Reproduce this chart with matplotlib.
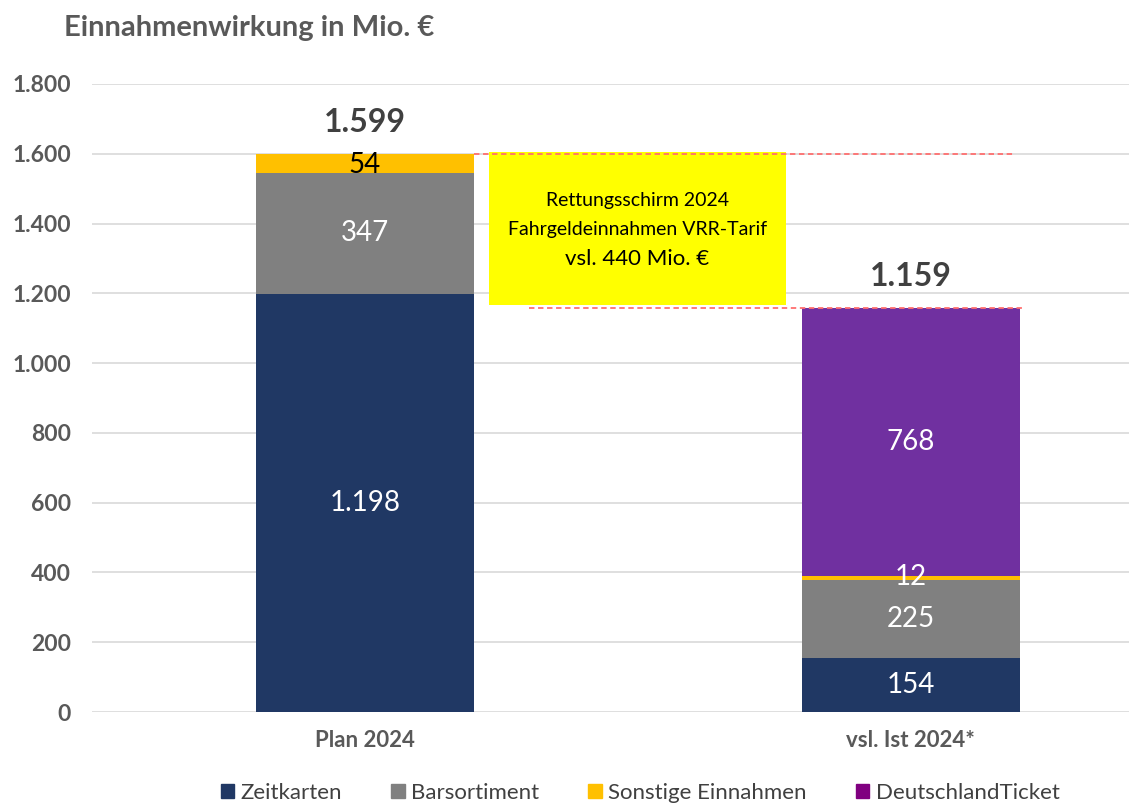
import matplotlib
matplotlib.use("Agg")
import matplotlib.pyplot as plt
from matplotlib.patches import Rectangle, Patch

plt.rcParams['font.family'] = ['Lato', 'DejaVu Sans']

# --- Daten ---
kategorien = ['Plan 2024', 'vsl. Ist 2024*']
zeitkarten = [1198, 154]
barsortiment = [347, 225]
sonstige = [54, 12]
dticket = [0, 768]
summen = [1599, 1159]
rettungsschirm = 440

serien = ['Zeitkarten', 'Barsortiment', 'Sonstige Einnahmen', 'DeutschlandTicket']
farben = ['#203864', '#808080', '#FFC000', '#7030A0']
legendfarben = ['#203864', '#808080', '#FFC000', '#800080']


def fmt(v):
    return f"{v:,.0f}".replace(',', '.')


fig = plt.figure(figsize=(11.29, 8.05), dpi=100)
ax = fig.add_axes([0.0815, 0.1155, 0.9185, 0.7802])

x = [0, 1]
breite = 0.40
unten = [0, 0]
werte = [zeitkarten, barsortiment, sonstige, dticket]
for name, vals, farbe in zip(serien, werte, farben):
    ax.bar(x, vals, breite, bottom=unten, color=farbe, zorder=3)
    for i, v in enumerate(vals):
        if v == 0:
            continue
        y = unten[i] + v / 2
        c = 'white'
        if name == 'Sonstige Einnahmen':
            c = 'black' if i == 0 else 'white'
            y = unten[i] + v / 2 + (-4 if i == 0 else 2)
        ax.text(x[i], y, fmt(v), ha='center', va='center', color=c,
                fontsize=20, zorder=5)
    unten = [u + v for u, v in zip(unten, vals)]

# Summen
for i, s in enumerate(summen):
    ax.text(x[i], s + 90, fmt(s), ha='center', va='center', fontsize=23,
            fontweight='bold', color='#404040')

# Rettungsschirm-Box
ax.add_patch(Rectangle((0.227, 1166), 0.544, 1604 - 1166, facecolor='#FFFF00',
                       edgecolor='none', zorder=4))
ax.text(0.499, 1466, 'Rettungsschirm 2024', ha='center', va='center',
        fontsize=14, zorder=5)
ax.text(0.499, 1384, 'Fahrgeldeinnahmen VRR-Tarif', ha='center', va='center',
        fontsize=14, zorder=5)
ax.text(0.499, 1298, f'vsl. {rettungsschirm} Mio. €', ha='center', va='center',
        fontsize=16, zorder=5)
ax.plot([0.2, 1.19], [summen[0], summen[0]], ls=(0, (3, 2)), color='#FF6F6F',
        lw=1.3, zorder=6)
ax.plot([0.30, 1.21], [summen[1], summen[1]], ls=(0, (3, 2)), color='#FF6F6F',
        lw=1.3, zorder=6)

ax.set_xlim(-0.5, 1.4)
ax.set_ylim(0, 1800)
ax.set_yticks(range(0, 1801, 200))
ax.set_yticklabels([fmt(v) for v in range(0, 1801, 200)])
ax.set_xticks(x)
ax.set_xticklabels(kategorien)
ax.grid(axis='y', color='#D9D9D9', lw=1.2, zorder=0)
for sp in ax.spines.values():
    sp.set_visible(False)
ax.tick_params(axis='both', length=0, labelcolor='#595959')
ax.tick_params(axis='x', pad=13, labelsize=16)
ax.tick_params(axis='y', pad=15, labelsize=16.5)
for lab in ax.get_xticklabels() + ax.get_yticklabels():
    lab.set_fontweight('bold')

fig.text(0.057, 0.965, 'Einnahmenwirkung in Mio. €', fontsize=21, fontweight='bold',
         color='#595959', va='center')

handles = [Patch(color=c, label=n) for n, c in zip(serien, legendfarben)]
fig.legend(handles=handles, loc='center', bbox_to_anchor=(0.567, 0.015), ncol=4,
           frameon=False, fontsize=16, handlelength=0.6, handleheight=0.6,
           handletextpad=0.3, columnspacing=2.2, labelcolor='#404040')

fig.savefig('out.png', dpi=100)
